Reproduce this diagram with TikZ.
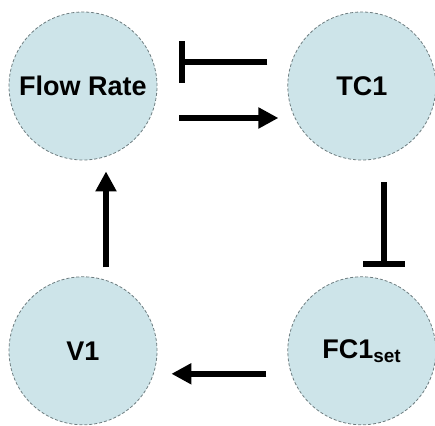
\documentclass[tikz,border=0pt]{standalone}
\usepackage{fontspec}
\setmainfont{Liberation Sans}
\usetikzlibrary{positioning,arrows.meta}
\definecolor{nodeblue}{RGB}{205,228,233}
\definecolor{rimgray}{RGB}{110,125,128}

\begin{document}
\begin{tikzpicture}[
        x=1pt, y=1pt,
        node distance=128pt,
        loopnode/.style={circle, draw=rimgray, densely dashed, line width=0.8pt, fill=nodeblue, minimum size=148pt, inner sep=0pt, font=\fontsize{27}{30}\selectfont\bfseries},
        act/.style={line width=6pt, -{Triangle[length=20pt, width=20pt]}},
        inhib/.style={line width=6pt, -{Bar[width=42pt]}}
    ]
        \useasboundingbox (0,0) rectangle (435,425);
        \node[loopnode] (flow) at (83,339) {Flow Rate};
        \node[loopnode, right=130pt of flow] (tc) {TC1};
        \node[loopnode, below=116pt of tc] (fc) {FC1\textsubscript{set}};
        \node[loopnode, left=130pt of fc] (valve) {V1};
        
        \draw[inhib, shorten <=20pt, shorten >=22pt] ([yshift=24pt]tc.west) -- ([yshift=24pt]flow.east);
        \draw[act, shorten <=22pt, shorten >=9pt] ([yshift=-32pt]flow.east) -- ([yshift=-32pt]tc.west);
        \draw[inhib, shorten <=22pt, shorten >=9pt] ([xshift=22pt]tc.south) -- ([xshift=22pt]fc.north);
        \draw[act, shorten <=21pt, shorten >=14pt] ([yshift=-23pt]fc.west) -- ([yshift=-23pt]valve.east);
        \draw[act, shorten <=9pt, shorten >=11pt] ([xshift=23pt]valve.north) -- ([xshift=23pt]flow.south);
    \end{tikzpicture}
\end{document}
